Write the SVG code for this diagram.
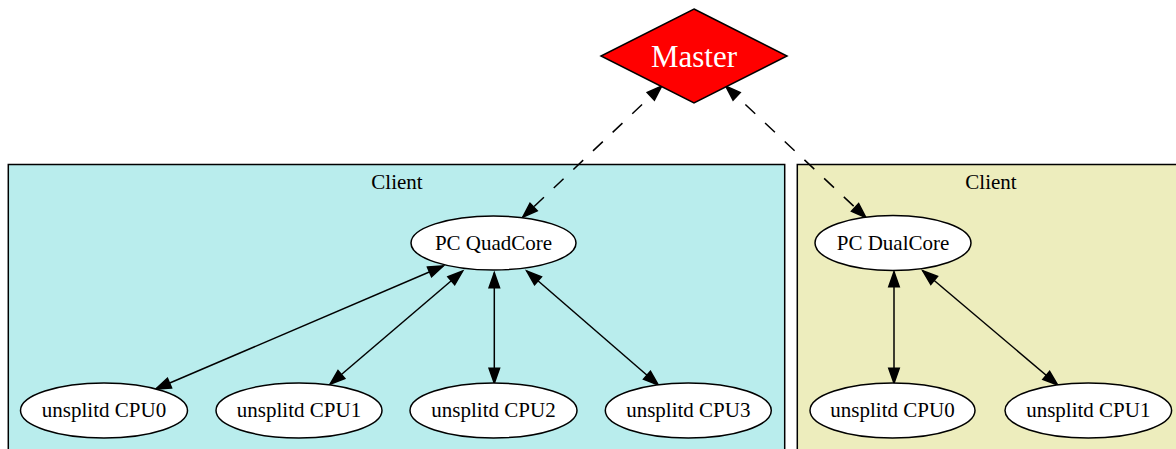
<svg xmlns="http://www.w3.org/2000/svg" width="1176" height="449" viewBox="0 0 1176 449">
<style>
text { font-family: "Liberation Serif", "Times New Roman", serif; fill: #000; }
.lbl { font-size: 21px; text-anchor: middle; }
.node ellipse { fill: #ffffff; stroke: #000; stroke-width: 1.5; }
.edge { stroke: #000; stroke-width: 1.5; fill: none; marker-start: url(#ah); marker-end: url(#ah); }
.dash { stroke-dasharray: 13.5 13.5; }
.cl { stroke: #000; stroke-width: 1.5; }
</style>
<defs>
<marker id="ah" markerUnits="userSpaceOnUse" markerWidth="16" markerHeight="12" refX="15" refY="5.25" orient="auto-start-reverse" overflow="visible">
<path d="M0,0 L15,5.25 L0,10.5 Z" fill="#000" stroke="#000" stroke-width="1.5" stroke-dasharray="none"/>
</marker>
</defs>
<rect width="1176" height="449" fill="#ffffff"/>
<g id="cluster_quad">
<rect class="cl" x="8.3" y="164.5" width="776.4" height="300" fill="#b9eded"/>
<text class="lbl" x="397" y="189">Client</text>
</g>
<g id="cluster_dual">
<rect class="cl" x="797.3" y="164.5" width="400" height="300" fill="#ededbd"/>
<text class="lbl" x="991" y="189">Client</text>
</g>
<g id="edges">
<line class="edge dash" x1="661.7" y1="86" x2="522.7" y2="217.3"/>
<line class="edge dash" x1="725.7" y1="86" x2="866" y2="217.7"/>
<line class="edge" x1="443.3" y1="266" x2="155.7" y2="389"/>
<line class="edge" x1="462.7" y1="271" x2="330" y2="384.3"/>
<line class="edge" x1="494.3" y1="272.7" x2="494.3" y2="383.3"/>
<line class="edge" x1="526.7" y1="271" x2="658.3" y2="385"/>
<line class="edge" x1="894" y1="271.7" x2="894" y2="383.3"/>
<line class="edge" x1="922.7" y1="270.7" x2="1057.7" y2="385"/>
</g>
<g id="master">
<polygon points="694,9 787,56 694,103 601,56" fill="#ff0000" stroke="#000" stroke-width="1.5"/>
<text x="694" y="67" style="font-size:31px;text-anchor:middle;fill:#ffffff">Master</text>
</g>
<g id="pc_quadcore" class="node">
<ellipse cx="493.5" cy="243" rx="82.5" ry="27"/>
<text class="lbl" x="493.5" y="250">PC QuadCore</text>
</g>
<g id="quad_cpu0" class="node">
<ellipse cx="104" cy="410.5" rx="83.5" ry="27.5"/>
<text class="lbl" x="104" y="417">unsplitd CPU0</text>
</g>
<g id="quad_cpu1" class="node">
<ellipse cx="299" cy="410.5" rx="83" ry="27.5"/>
<text class="lbl" x="299" y="417">unsplitd CPU1</text>
</g>
<g id="quad_cpu2" class="node">
<ellipse cx="493.5" cy="410.5" rx="83.5" ry="27.5"/>
<text class="lbl" x="493.5" y="417">unsplitd CPU2</text>
</g>
<g id="quad_cpu3" class="node">
<ellipse cx="688.3" cy="410.5" rx="83" ry="27.5"/>
<text class="lbl" x="688.3" y="417">unsplitd CPU3</text>
</g>
<g id="pc_dualcore" class="node">
<ellipse cx="893" cy="243" rx="78" ry="27.5"/>
<text class="lbl" x="893" y="250">PC DualCore</text>
</g>
<g id="dual_cpu0" class="node">
<ellipse cx="892.5" cy="410.5" rx="82.5" ry="27.5"/>
<text class="lbl" x="892.5" y="417">unsplitd CPU0</text>
</g>
<g id="dual_cpu1" class="node">
<ellipse cx="1088.3" cy="410.5" rx="83.3" ry="27.5"/>
<text class="lbl" x="1088.3" y="417">unsplitd CPU1</text>
</g>
</svg>
